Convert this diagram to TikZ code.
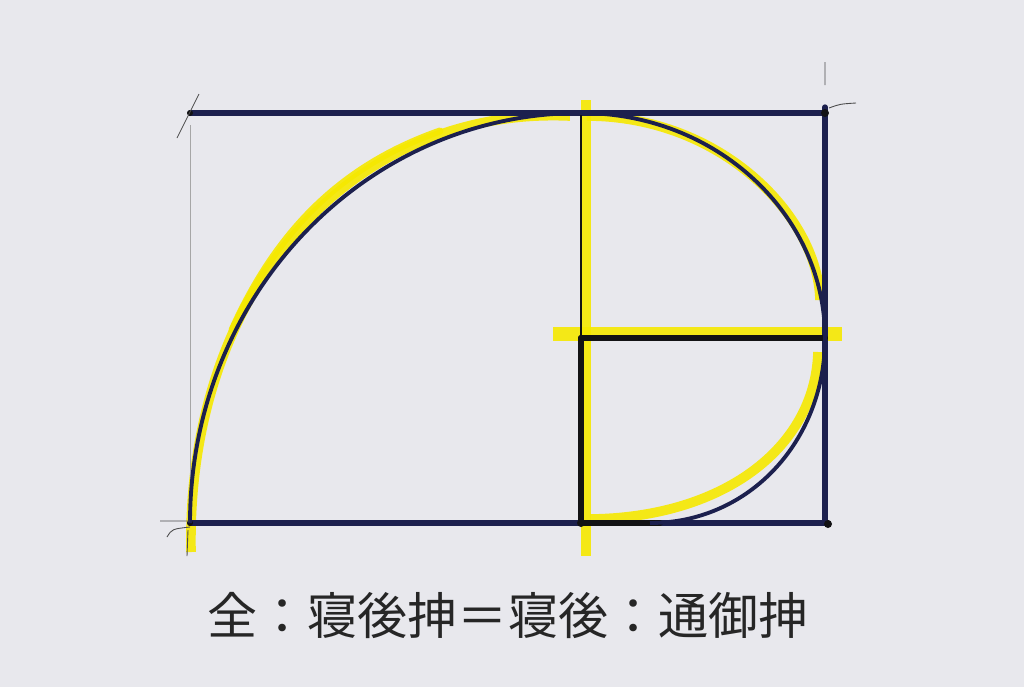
\documentclass[tikz,border=0pt]{standalone}
\usepackage{fontspec}
\newfontfamily\cjk{Noto Sans CJK JP}
\definecolor{paper}{RGB}{232,232,237}
\definecolor{navy}{RGB}{28,32,78}
\definecolor{ink}{RGB}{18,18,20}
\definecolor{marker}{RGB}{246,232,0}
\tikzset{
  frame/.style={navy, line width=3pt, line cap=round},
  square/.style={ink, line width=3.4pt, line cap=round},
  hilite/.style={marker, line width=5.5pt, line cap=butt, opacity=0.9},
  pencil/.style={black!70, line width=0.5pt},
}
\begin{document}
\begin{tikzpicture}[x=0.02cm, y=-0.02cm]
    \fill[paper] (0,0) rectangle (1024,687);
    \useasboundingbox (0,0) rectangle (1024,687);
    \coordinate (tl) at (190,113);
    \coordinate (tm) at (581,113);
    \coordinate (tr) at (825,113);
    \coordinate (bl) at (190,523);
    \coordinate (bm) at (581,523);
    \coordinate (br) at (825,523);
    \coordinate (mm) at (581,338);
    \coordinate (mr) at (825,338);
    % marker underneath
    \draw[hilite] (191,552) .. controls (186,292) and (350,106) .. (570,116);
    \draw[hilite, line width=4pt, line cap=round] (232,330) .. controls (276,232) and (340,166) .. (440,131);
    \draw[hilite] (587,116) .. controls (720,116) and (818,215) .. (820,300);
    \draw[hilite] (818,352) .. controls (815,450) and (720,518) .. (590,519);
    \draw[hilite, line width=6pt] (586,100) -- (586,556);
    \draw[hilite, line width=8pt] (553,334) -- (842,334);
    % frame
    \draw[pencil, black!35] (190,125) -- (190,520);
    \draw[frame] (tl) -- (tr) (br) -- (825,107);
    \draw[frame] (bl) -- (828,523);
    \draw[ink, line width=1.6pt] (tm) -- (mm);
    \draw[square] (mm) -- (mr) (mm) -- (bm) -- (660,523);
    \fill[ink] (828,524) circle (4) (tr) circle (4) (bm) circle (4) (mm) circle (3) (tl) circle (3) (bl) circle (3);
    % spiral
    \draw[navy, line width=2.2pt] (bl) .. controls (190,296) and (365,113) .. (tm)
      .. controls (716,113) and (825,214) .. (mr)
      .. controls (825,440) and (750,523) .. (650,523);
    % ticks
    \draw[pencil] (177,138) -- (199,94);
    \draw[pencil] (825,62) -- (825,85) (829,108) .. controls (840,104) .. (856,103);
    \draw[pencil] (160,521) -- (190,521) (167,537) .. controls (172,529) .. (190,527) (188,530) -- (187,556);
    % caption
    \node[text=black!85, font=\cjk\fontsize{28.5}{34}\selectfont] (rule) at (508,615) {全：寝後抻＝寝後：通御抻};
\end{tikzpicture}
\end{document}
